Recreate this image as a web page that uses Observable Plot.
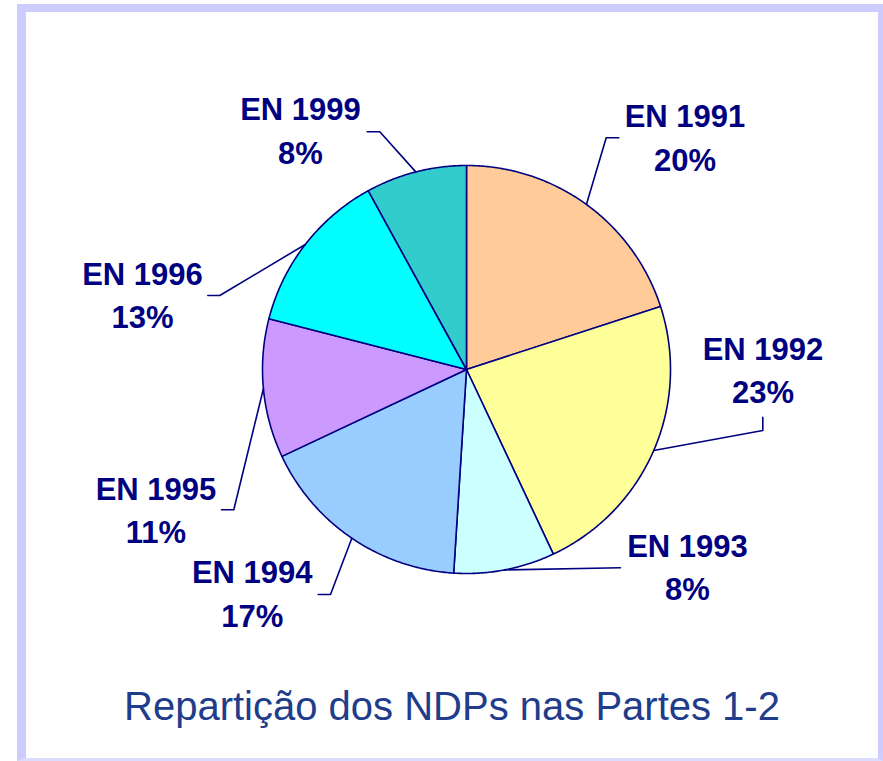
<!DOCTYPE html>
<html><head><meta charset="utf-8">
<script src="https://cdn.jsdelivr.net/npm/d3@7"></script>
<script src="https://cdn.jsdelivr.net/npm/@observablehq/plot@0.6"></script>
<style>
html,body{margin:0;padding:0;background:#fff;}
#frame{position:absolute;left:17px;top:4px;width:852px;height:746px;border-style:solid;border-color:#CCCCFF;border-bottom-color:#DCDCFF;border-width:8px 5px 3px 9px;background:#fff;overflow:hidden}
#chart svg{display:block}
#cap{font-family:"Liberation Sans",Arial,sans-serif;font-size:40px;line-height:46px;color:#203C8A;text-align:center;white-space:nowrap}
</style></head><body>
<div id="frame"><div id="chart"></div><div id="cap"></div></div>
<script>
// ---- data ----
const categories = ["EN 1991", "EN 1992", "EN 1993", "EN 1994", "EN 1995", "EN 1996", "EN 1999"];
const shares = [20, 23, 8, 17, 11, 13, 8];
const sliceColors = ["#FFCC99", "#FFFF99", "#CCFFFF", "#99CCFF", "#CC99FF", "#00FFFF", "#33CCCC"];
const captionText = "Repartição dos NDPs nas Partes 1-2";

// ---- layout (pixel offsets from the pie centre) ----
const W = 852, H = 671, CX = 440, CY = 357, R = 204;
const labelAnchor = [[218.5, -199], [296.5, 33.3], [221, 230.3], [-214.3, 257], [-310.5, 173.7], [-324, -41.5], [-166, -206]];
const leaderElbow = [[139.7, -231.7], [296.3, 61], [154, 198.3], [-136, 225], [-232.7, 140.3], [-246.7, -74], [-86.7, -237.7]];
const leaderEnd = [[152.3, -231.7], [296.3, 47.7], [154, 198.3], [-148.3, 225], [-245, 140.3], [-258.7, -74], [-99.3, -237.7]];

const arcs = d3.pie().sort(null).startAngle(0).endAngle(2 * Math.PI)(shares);

const slicePts = [];
const leaderPts = [];
const labels = [];
arcs.forEach((a, i) => {
  const name = categories[i];
  const n = Math.max(2, Math.ceil((a.endAngle - a.startAngle) / (Math.PI / 360)));
  slicePts.push({name, x: 0, y: 0});
  for (let k = 0; k <= n; k++) {
    const t = a.startAngle + (a.endAngle - a.startAngle) * k / n;
    slicePts.push({name, x: Math.sin(t), y: -Math.cos(t)});
  }
  slicePts.push({name, x: 0, y: 0});
  const m = (a.startAngle + a.endAngle) / 2;
  leaderPts.push({name, x: Math.sin(m), y: -Math.cos(m)});
  leaderPts.push({name, x: leaderElbow[i][0] / R, y: leaderElbow[i][1] / R});
  leaderPts.push({name, x: leaderEnd[i][0] / R, y: leaderEnd[i][1] / R});
  labels.push({name, x: labelAnchor[i][0] / R, y: labelAnchor[i][1] / R, text: `${name}\n${shares[i]}%`});
});

const chart = Plot.plot({
  width: W, height: H,
  marginTop: 0, marginRight: 0, marginBottom: 0, marginLeft: 0,
  style: {fontFamily: "'Liberation Sans', Arial, sans-serif", background: "transparent"},
  x: {domain: [-CX / R, (W - CX) / R], range: [0, W], axis: null},
  y: {domain: [-CY / R, (H - CY) / R], range: [0, H], axis: null},
  color: {domain: categories, range: sliceColors},
  marks: [
    Plot.line(slicePts, {x: "x", y: "y", z: "name", fill: "name", stroke: "#000080", strokeWidth: 1.6, strokeLinejoin: "round"}),
    Plot.line(leaderPts, {x: "x", y: "y", z: "name", stroke: "#000080", strokeWidth: 1.6}),
    Plot.text(labels, {x: "x", y: "y", text: "text", textAnchor: "middle", lineAnchor: "bottom", lineHeight: 1.39,
      fontSize: 31, fontWeight: "bold", fill: "#000080", fontFamily: "'Liberation Sans', Arial, sans-serif"})
  ]
});
document.getElementById("chart").appendChild(chart);
document.getElementById("cap").textContent = captionText;
</script>
</body></html>
